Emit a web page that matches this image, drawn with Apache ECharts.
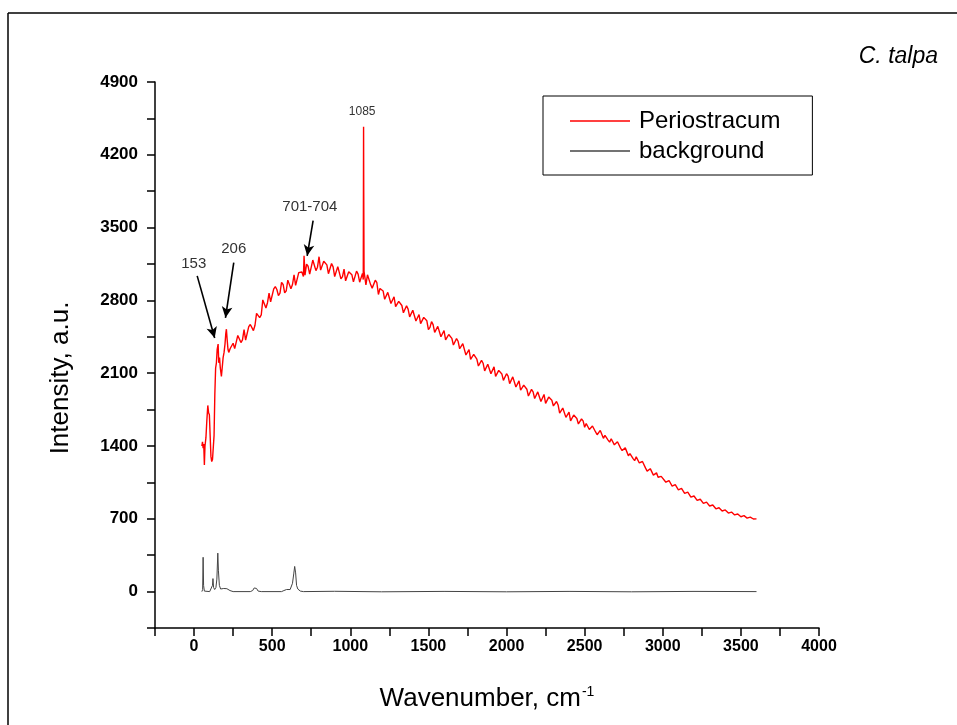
<!DOCTYPE html>
<html><head><meta charset="utf-8">
<script src="https://cdn.jsdelivr.net/npm/echarts@6/dist/echarts.min.js"></script>
<style>html,body{margin:0;padding:0;background:#fff}#c{width:957px;height:725px}</style>
</head><body><div id="c"></div><script>
// ---- data (wavenumber cm-1, intensity a.u.) ----
const periostracum = [
[50,1400],[54,1440],[58,1380],[62,1420],[66,1218],[70,1400],[76,1480],[82,1650],[88,1790],[93,1720],[98,1700],
[103,1500],[108,1300],[113,1250],[118,1270],[123,1260],[128,1500],[133,1900],[138,2150],[143,2200],[148,2330],
[154,2380],[158,2200],[163,2250],[168,2150],[175,2069],[180,2150],[186,2250],[192,2300],[198,2380],[203,2480],
[207,2523],[212,2420],[217,2330],[222,2300],[227,2290],[232,2340],[240,2330],
[250,2388],[260,2336],[270,2349],[280,2463],[290,2473],[300,2395],[310,2420],[320,2518],[330,2418],[340,2431],
[350,2547],[360,2568],[370,2564],[380,2509],[390,2561],[400,2675],[410,2683],[420,2635],[430,2660],[440,2805],
[450,2813],[460,2727],[470,2778],[480,2871],[490,2787],[500,2795],[510,2911],[520,2933],[530,2905],[540,2846],
[550,2869],[560,2974],[570,2953],[580,2872],[590,2893],[600,2995],[610,3013],[620,2913],[630,2953],[640,3046],
[650,2944],[660,2960],[670,3067],[680,3085],[690,3073],[700,3030],[704,3230],[710,3043],[720,3148],[730,3128],
[740,3052],[750,3067],[760,3188],[770,3184],[780,3086],[790,3119],[800,3220],[810,3091],[820,3085],[830,3177],
[840,3190],[850,3142],[860,3057],[870,3073],[880,3155],[890,3122],[900,3029],[910,3029],[920,3125],[930,3118],
[940,3007],[950,3028],[960,3101],[970,2988],[980,2983],[990,3076],[1000,3080],[1010,3047],[1020,2978],[1030,2991],
[1040,3081],[1050,3053],[1060,2975],[1070,2967],[1078,3060],[1083,3000],[1085,4470],[1086,3870],[1088,3080],
[1100,2950],[1110,3046],[1120,3039],[1130,2952],[1140,2918],[1150,2902],[1160,2994],[1170,2970],[1180,2857],
[1190,2914],[1200,2930],[1210,2891],[1220,2811],[1230,2808],[1240,2877],[1250,2861],[1260,2770],[1270,2782],
[1280,2835],[1290,2740],[1300,2725],[1310,2791],[1320,2788],[1330,2751],[1340,2681],[1350,2688],[1360,2749],
[1370,2716],[1380,2642],[1390,2635],[1400,2705],[1410,2691],[1420,2602],[1430,2615],[1440,2664],[1450,2577],
[1460,2575],[1470,2637],[1480,2650],[1490,2604],[1500,2520],[1510,2541],[1520,2596],[1530,2567],[1540,2492],
[1550,2485],[1560,2550],[1570,2540],[1580,2450],[1590,2462],[1600,2510],[1610,2420],[1620,2410],[1630,2472],
[1640,2470],[1650,2435],[1660,2371],[1670,2375],[1680,2433],[1690,2407],[1700,2335],[1710,2324],[1720,2385],
[1730,2370],[1740,2275],[1750,2283],[1760,2327],[1770,2234],[1780,2221],[1790,2280],[1800,2275],[1810,2236],
[1820,2169],[1830,2169],[1840,2223],[1850,2196],[1860,2122],[1870,2118],[1880,2186],[1890,2178],[1900,2095],
[1910,2105],[1920,2161],[1930,2069],[1940,2062],[1950,2127],[1960,2127],[1970,2093],[1980,2031],[1990,2036],
[2000,2095],[2010,2071],[2020,2000],[2030,1997],[2040,2065],[2050,2056],[2060,1967],[2070,1979],[2080,2026],
[2090,1936],[2100,1925],[2110,1986],[2120,1983],[2130,1946],[2140,1881],[2150,1886],[2160,1944],[2170,1921],
[2180,1857],[2190,1850],[2200,1920],[2210,1914],[2220,1828],[2230,1844],[2240,1896],[2250,1810],[2260,1809],
[2270,1870],[2280,1872],[2290,1840],[2300,1785],[2310,1777],[2320,1828],[2330,1795],[2340,1716],[2350,1707],
[2360,1765],[2370,1760],[2380,1675],[2390,1682],[2400,1725],[2410,1642],[2420,1639],[2430,1698],[2440,1693],
[2450,1664],[2460,1612],[2470,1607],[2480,1661],[2490,1641],[2500,1580],[2510,1616],[2520,1622],[2530,1559],
[2540,1544],[2550,1592],[2560,1584],[2570,1535],[2580,1508],[2590,1502],[2600,1550],[2610,1532],[2620,1474],
[2630,1502],[2640,1512],[2650,1457],[2660,1437],[2670,1470],[2680,1473],[2690,1411],[2700,1397],[2710,1441],
[2720,1428],[2730,1380],[2740,1356],[2750,1342],[2760,1382],[2770,1365],[2780,1306],[2790,1327],[2800,1340],
[2810,1279],[2820,1259],[2830,1296],[2840,1303],[2850,1237],[2860,1223],[2870,1251],[2880,1236],[2890,1187],
[2900,1158],[2910,1150],[2920,1182],[2930,1165],[2940,1120],[2950,1138],[2960,1142],[2970,1100],[2980,1086],
[2990,1108],[3000,1108],[3020,1052],[3040,1068],[3060,1015],[3080,1029],[3100,979],
[3120,992],[3140,944],[3160,956],[3180,909],[3200,919],[3220,877],[3240,888],[3260,849],[3280,860],[3300,823],
[3320,833],[3340,796],[3360,806],[3380,775],[3400,785],[3420,755],[3440,765],[3460,737],[3480,746],[3500,720],
[3520,730],[3540,707],[3560,716],[3580,698],[3600,699]
];
const background = [
[50,0],[55,20],[58,330],[61,60],[66,5],[75,0],[100,0],[110,10],[118,60],[121,125],[125,40],[132,20],[140,40],
[146,120],[152,370],[156,200],[162,60],[170,25],[180,15],[190,30],[200,35],[210,28],[220,30],[230,10],[250,0],
[360,0],[375,10],[385,35],[393,45],[400,30],[410,5],[430,0],[560,0],[575,10],[585,23],[592,20],[600,10],[615,20],
[630,80],[638,170],[644,242],[650,180],[656,60],[664,25],[680,5],[700,0],[900,3],[1200,-2],[1600,2],[2000,-2],
[2400,2],[2800,-2],[3200,2],[3600,0]
];
const seriesNames = ['Periostracum', 'background'];
const xRange = [-250, 4000], xMinorStep = 250, xLabelStep = 500;
const yRange = [-350, 4900], yMinorStep = 350, yLabelStep = 700;
const peakLabels = [
  {text: '153', at: [-2, 3155], from: [20, 3036], to: [132, 2439], size: 15},
  {text: '206', at: [254, 3294], from: [254, 3164], to: [201, 2633], size: 15},
  {text: '701-704', at: [741, 3696], from: [762, 3567], to: [724, 3229], size: 15},
  {text: '1085', at: [1076, 4615], size: 12}
];

const FONT = '"Liberation Sans", Arial, sans-serif';
const chart = echarts.init(document.getElementById('c'), null, {renderer: 'canvas'});
chart.setOption({
  backgroundColor: '#fff',
  animation: false,
  title: {text: 'C. talpa', right: 14, top: 40,
    textStyle: {fontStyle: 'italic', fontWeight: 'normal', fontSize: 23, fontFamily: FONT, color: '#000'}},
  graphic: [
    {type: 'line', shape: {x1: 8, y1: 13, x2: 957, y2: 13}, style: {stroke: '#000', lineWidth: 1.5}},
    {type: 'line', shape: {x1: 8, y1: 13, x2: 8, y2: 725}, style: {stroke: '#000', lineWidth: 1.5}}
  ],
  legend: {
    orient: 'vertical', left: 543, top: 96,
    data: seriesNames,
    icon: 'rect',
    borderColor: '#000', borderWidth: 1, borderRadius: 0,
    padding: [12, 32, 11, 27],
    itemWidth: 60, itemHeight: 1.5, itemGap: 4,
    textStyle: {fontSize: 24, fontFamily: FONT, color: '#000', lineHeight: 26, padding: [0, 0, 0, 4]}
  },
  grid: {left: 155, right: 138, top: 82, bottom: 97, containLabel: false},
  xAxis: {
    type: 'value', min: xRange[0], max: xRange[1], interval: xMinorStep,
    name: '{a|Wavenumber, cm}{s|-1}', nameLocation: 'middle', nameGap: 57,
    nameTextStyle: {rich: {
      a: {fontSize: 26, fontFamily: FONT, color: '#000'},
      s: {fontSize: 14, fontFamily: FONT, color: '#000', verticalAlign: 'top', padding: [0, 0, 14, 1]}
    }},
    axisLine: {onZero: false, lineStyle: {color: '#000', width: 1.5}},
    axisTick: {show: true, inside: false, length: 8, lineStyle: {color: '#000', width: 1.5}},
    axisLabel: {margin: 11, fontSize: 16, fontWeight: 'bold', fontFamily: FONT, color: '#000',
      formatter: v => (v % xLabelStep === 0 ? String(v) : '')},
    splitLine: {show: false}
  },
  yAxis: {
    type: 'value', min: yRange[0], max: yRange[1], interval: yMinorStep,
    name: 'Intensity, a.u.', nameLocation: 'middle', nameGap: 81,
    nameTextStyle: {fontSize: 26, fontFamily: FONT, color: '#000', padding: [0, 46, 0, 0]},
    axisLine: {onZero: false, lineStyle: {color: '#000', width: 1.5}},
    axisTick: {show: true, inside: false, length: 8, lineStyle: {color: '#000', width: 1.5}},
    axisLabel: {margin: 17, fontSize: 17, fontWeight: 'bold', fontFamily: FONT, color: '#000',
      formatter: v => (v % yLabelStep === 0 ? String(v) : '')},
    splitLine: {show: false}
  },
  series: [
    {
      name: seriesNames[0], type: 'line', data: periostracum, symbol: 'none',
      lineStyle: {color: '#ff0000', width: 1.4}, itemStyle: {color: '#ff0000'}, z: 3,
      markLine: {
        silent: true, symbol: ['none', 'arrow'], symbolSize: [8, 11], animation: false,
        lineStyle: {color: '#000', width: 1.6, type: 'solid'}, label: {show: false},
        data: peakLabels.filter(p => p.from).map(p => [{coord: p.from}, {coord: p.to}])
      },
      markPoint: {
        silent: true, symbol: 'circle', symbolSize: 1, itemStyle: {color: 'rgba(0,0,0,0)'},
        data: peakLabels.map(p => ({coord: p.at, value: p.text,
          label: {show: true, position: 'inside', formatter: p.text, color: '#333',
            fontSize: p.size, fontFamily: FONT}}))
      }
    },
    {
      name: seriesNames[1], type: 'line', data: background, symbol: 'none',
      lineStyle: {color: '#444', width: 1}, itemStyle: {color: '#444'}, z: 2
    }
  ]
});
</script></body></html>
